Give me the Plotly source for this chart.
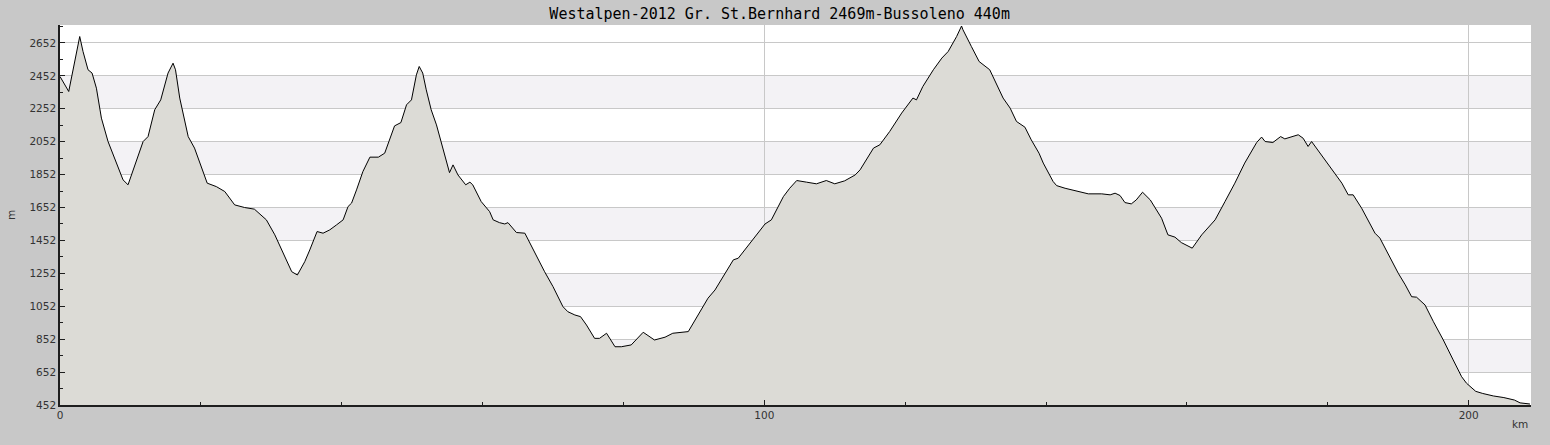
import plotly.graph_objects as go

title_text = "Westalpen-2012 Gr. St.Bernhard 2469m-Bussoleno 440m"

km = [0.0, 1.24, 2.8, 3.27, 3.98, 4.55, 5.17, 5.88, 6.82, 8.0, 8.95, 9.66, 10.37, 11.8, 12.5,
      13.45, 14.3, 15.34, 16.05, 16.4, 17.0, 18.2, 19.1, 20.1, 20.9, 22.2, 23.4, 24.8, 26.2,
      27.6, 28.6, 29.3, 30.5, 31.9, 32.4, 32.9, 33.7, 34.75, 35.46, 36.5, 37.35, 38.3, 39.25,
      40.2, 40.9, 41.4, 42.1, 43.0, 44.0, 45.2, 46.1, 46.8, 47.5, 48.4, 49.2, 49.9, 50.6,
      51.0, 51.5, 52.0, 52.7, 53.45, 54.2, 55.3, 55.8, 56.5, 57.6, 58.2, 58.6, 59.8, 61.0,
      61.5, 62.4, 63.15, 63.6, 64.8, 66.0, 67.2, 68.1, 68.8, 70.0, 71.4, 72.1, 73.1, 73.9,
      74.75, 75.9, 76.6, 77.6, 78.8, 79.7, 81.1, 82.8, 84.4, 85.9, 87.0, 89.2, 90.6, 92.0,
      93.0, 94.4, 95.6, 96.3, 98.2, 100.1, 101.0, 102.7, 103.6, 104.6, 106.0, 107.4, 108.8,
      110.0, 111.4, 112.9, 113.6, 115.5, 116.4, 117.8, 119.5, 121.1, 121.6, 122.5, 124.0,
      125.2, 126.1, 127.3, 128.0, 128.2, 129.4, 130.5, 132.0, 132.7, 133.9, 134.9, 135.8,
      137.0, 137.9, 139.0, 139.6, 141.0, 141.5, 142.7, 144.1, 146.0, 147.9, 149.1, 149.8,
      150.5, 151.2, 152.1, 152.8, 153.7, 154.8, 155.7, 156.4, 157.3, 158.3, 159.2, 160.2,
      160.75, 162.1, 164.0, 165.4, 166.8, 168.2, 169.9, 170.6, 171.1, 172.2, 173.3, 173.9,
      174.9, 175.8, 176.5, 177.2, 177.7, 178.9, 179.8, 181.0, 182.0, 182.9, 183.6, 184.8,
      185.7, 186.7, 187.4, 188.6, 190.0, 191.0, 191.9, 192.6, 193.8, 195.0, 196.4, 197.8,
      199.0, 199.7, 200.3, 201.0, 202.0, 203.5, 205.0, 206.5, 207.3, 208.7]

elevation = [2448, 2357, 2691, 2600, 2489, 2469, 2377, 2195, 2053, 1922, 1820, 1790, 1881, 2053, 2083,
             2246, 2306, 2469, 2529, 2489, 2317, 2083, 2013, 1901, 1800, 1779, 1749, 1668, 1652,
             1642, 1601, 1577, 1486, 1354, 1317, 1262, 1242, 1323, 1394, 1506, 1496, 1516, 1546,
             1577, 1658, 1679, 1759, 1870, 1958, 1958, 1982, 2063, 2148, 2168, 2276, 2306, 2458,
             2509, 2469, 2367, 2246, 2154, 2043, 1864, 1911, 1850, 1790, 1806, 1790, 1688, 1627,
             1577, 1560, 1552, 1560, 1500, 1496, 1394, 1313, 1262, 1171, 1050, 1019, 999, 989,
             938, 857, 857, 888, 806, 806, 817, 894, 847, 864, 888, 898, 999, 1101,
             1151, 1253, 1334, 1344, 1445, 1552, 1577, 1718, 1769, 1816, 1806, 1796, 1816,
             1796, 1814, 1850, 1881, 2013, 2033, 2114, 2226, 2317, 2306, 2387, 2489,
             2560, 2600, 2691, 2755, 2732, 2630, 2539, 2489, 2428, 2317, 2256, 2175,
             2140, 2063, 1982, 1922, 1810, 1785, 1769, 1755, 1735, 1735, 1729, 1739,
             1725, 1682, 1674, 1698, 1745, 1698, 1638, 1587, 1486, 1472, 1439, 1414,
             1405, 1486, 1577, 1688, 1800, 1922, 2047, 2080, 2053, 2047, 2083, 2069,
             2083, 2094, 2073, 2023, 2053, 1982, 1931, 1861, 1800, 1729, 1729, 1648,
             1577, 1496, 1466, 1364, 1253, 1182, 1110, 1107, 1060, 958, 847, 726,
             624, 584, 560, 535, 522, 507, 497, 482, 465, 458]

y_ticks = [452, 652, 852, 1052, 1252, 1452, 1652, 1852, 2052, 2252, 2452, 2652]
x_ticks = [0, 100, 200]
x_range = [0, 208.85]
y_range = [452, 2761]

PAPER = "#c8c8c8"
BAND = "#f3f2f5"
FILL = "#dcdbd6"
GRID = "#c8c8c8"
AXIS = "#1e1e1e"
TXT = "#333333"

fig = go.Figure()
fig.add_trace(go.Scatter(
    x=km, y=elevation, mode="lines", fill="tozeroy",
    fillcolor=FILL, line=dict(color="black", width=1), hoverinfo="x+y",
    showlegend=False,
))

shapes = []
for i in range(1, len(y_ticks) - 1, 2):
    shapes.append(dict(type="rect", xref="paper", yref="y", x0=0, x1=1,
                       y0=y_ticks[i], y1=y_ticks[i + 1], fillcolor=BAND,
                       line=dict(width=0), layer="below"))

fig.update_layout(
    width=1550, height=445,
    margin=dict(l=60, r=19, t=25, b=40),
    paper_bgcolor=PAPER, plot_bgcolor="white",
    shapes=shapes,
    title=dict(text=title_text, x=0.503, xanchor="center", yref="container", y=0.968,
               yanchor="middle",
               font=dict(family="DejaVu Sans Mono", size=15, color="black")),
    xaxis=dict(range=x_range, tickvals=x_ticks, ticktext=[str(v) for v in x_ticks],
               showgrid=True, gridcolor=GRID, gridwidth=1, zeroline=False,
               showline=True, linecolor=AXIS, linewidth=1.5,
               ticks="inside", ticklen=5, tickcolor=AXIS, tickwidth=1,
               minor=dict(dtick=20, tick0=0, ticks="inside", ticklen=3,
                          tickcolor=AXIS, showgrid=False),
               tickfont=dict(family="DejaVu Sans", size=10.5, color=TXT)),
    yaxis=dict(range=y_range, tickvals=y_ticks, ticktext=[str(v) for v in y_ticks],
               showgrid=True, gridcolor=GRID, gridwidth=1, zeroline=False,
               showline=True, linecolor=AXIS, linewidth=1.5,
               ticks="inside", ticklen=5, tickcolor=AXIS, tickwidth=1,
               minor=dict(dtick=100, tick0=452, ticks="inside", ticklen=3,
                          tickcolor=AXIS, showgrid=False),
               tickfont=dict(family="DejaVu Sans", size=10.5, color=TXT)),
    annotations=[
        dict(text="m", xref="paper", yref="paper", x=0, y=0.5, xshift=-49,
             xanchor="center", yanchor="middle",
             showarrow=False, textangle=-90,
             font=dict(family="DejaVu Sans", size=10.5, color=TXT)),
        dict(text="km", xref="paper", yref="paper", x=1, y=0, xanchor="right",
             yanchor="middle", yshift=-19, xshift=-1, showarrow=False,
             font=dict(family="DejaVu Sans", size=10.5, color=TXT)),
    ],
)

fig.write_html(
    "out.html",
    config={"displayModeBar": False},
    post_script="document.body.style.margin='0';document.body.style.background='#c8c8c8';",
)
